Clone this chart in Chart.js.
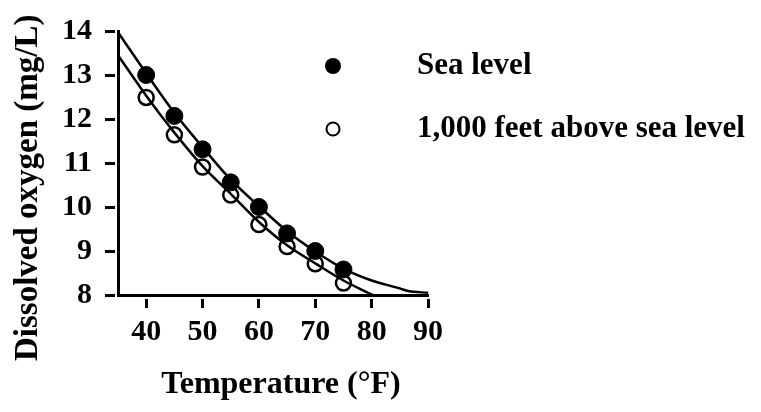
<!DOCTYPE html>
<html><head><meta charset="utf-8">
<script src="https://cdn.jsdelivr.net/npm/chart.js@4/dist/chart.umd.min.js"></script>
<style>html,body{margin:0;padding:0;background:#fff;} #wrap{width:761px;height:412px;position:relative;}</style>
</head><body><div id="wrap"><canvas id="c"></canvas></div>
<script>
const temps = [40, 45, 50, 55, 60, 65, 70, 75];
const seaLevel = [13.0, 12.07, 11.31, 10.56, 10.0, 9.4, 9.0, 8.58];
const aboveSea = [12.49, 11.64, 10.91, 10.27, 9.6, 9.1, 8.71, 8.27];
const seaCurveTemps = [35, 40, 45, 50, 55, 60, 65, 70, 75, 80, 85, 86.5, 90];
const seaCurve = [13.97, 13.04, 12.14, 11.36, 10.62, 10.02, 9.45, 8.99, 8.6, 8.33, 8.15, 8.09, 8.05];
const aboveCurveTemps = [35, 40, 45, 50, 55, 60, 65, 70, 75, 80.2];
const aboveCurve = [13.45, 12.53, 11.69, 10.93, 10.3, 9.66, 9.13, 8.72, 8.33, 8.0];
const xTicks = [40, 50, 60, 70, 80, 90];
const yTicks = [8, 9, 10, 11, 12, 13, 14];
const seriesLabels = ['Sea level', '1,000 feet above sea level'];
const xTitle = 'Temperature (°F)';
const yTitle = 'Dissolved oxygen (mg/L)';

const FONT = '"Liberation Serif", "Times New Roman", serif';
const pts = (xs, ys) => xs.map((x, i) => ({x: x, y: ys[i]}));

const legendPlugin = {
  id: 'sideLegend',
  afterDraw(chart) {
    const ctx = chart.ctx;
    const rows = [66, 129];
    ctx.save();
    ctx.fillStyle = '#000';
    ctx.beginPath(); ctx.arc(333, rows[0], 8, 0, Math.PI * 2); ctx.fill();
    ctx.strokeStyle = '#000'; ctx.lineWidth = 2;
    ctx.beginPath(); ctx.arc(333, rows[1], 6.5, 0, Math.PI * 2); ctx.stroke();
    ctx.font = 'bold 31px ' + FONT;
    ctx.textBaseline = 'middle';
    ctx.textAlign = 'left';
    seriesLabels.forEach((t, i) => ctx.fillText(t, 417, rows[i]));
    ctx.restore();
  }
};

new Chart(document.getElementById('c'), {
  type: 'scatter',
  data: {
    datasets: [
      { label: seriesLabels[0], data: pts(temps, seaLevel), showLine: false,
        pointRadius: 8.5, pointBackgroundColor: '#000', pointBorderColor: '#000', pointBorderWidth: 1 },
      { label: seriesLabels[1], data: pts(temps, aboveSea), showLine: false,
        pointRadius: 7.5, pointBackgroundColor: 'rgba(0,0,0,0)', pointBorderColor: '#000', pointBorderWidth: 2.5 },
      { type: 'line', label: 'sea fit', data: pts(seaCurveTemps, seaCurve), borderColor: '#000',
        borderWidth: 2.5, pointRadius: 0, cubicInterpolationMode: 'monotone', fill: false },
      { type: 'line', label: 'above fit', data: pts(aboveCurveTemps, aboveCurve), borderColor: '#000',
        borderWidth: 2.5, pointRadius: 0, cubicInterpolationMode: 'monotone', fill: false }
    ]
  },
  options: {
    responsive: true, maintainAspectRatio: false, animation: false, devicePixelRatio: 1,
    layout: { padding: { top: 25, right: 333, left: 0, bottom: 0 } },
    plugins: { legend: { display: false }, tooltip: { enabled: false } },
    scales: {
      x: {
        type: 'linear', min: 35, max: 90,
        afterBuildTicks: s => { s.ticks = xTicks.map(v => ({value: v})); },
        afterFit: s => { s.height = 117; },
        border: { display: true, color: '#000', width: 3 },
        grid: { display: true, drawOnChartArea: false, color: '#000', tickLength: 13, tickWidth: 3,
                tickBorderDash: [10, 50], tickBorderDashOffset: -2 },
        ticks: { color: '#000', padding: 6, maxRotation: 0, font: { family: FONT, size: 30, weight: 'bold' } },
        title: { display: true, text: '  ' + xTitle, color: '#000',
                 font: { family: FONT, size: 32, weight: 'bold', lineHeight: 0.9 }, padding: { top: 0, bottom: 13 } }
      },
      y: {
        type: 'linear', min: 8, max: 14,
        afterBuildTicks: s => { s.ticks = yTicks.map(v => ({value: v})); },
        afterFit: s => { s.width = 118; },
        border: { display: true, color: '#000', width: 3 },
        grid: { display: true, drawOnChartArea: false, color: '#000', tickLength: 13, tickWidth: 3,
                tickBorderDash: [10, 50] },
        ticks: { color: '#000', padding: 13, font: { family: FONT, size: 30, weight: 'bold' } },
        title: { display: true, text: yTitle + '      ', color: '#000',
                 font: { family: FONT, size: 33, weight: 'bold', lineHeight: 1 }, padding: { top: 11.5, bottom: 0 } }
      }
    }
  },
  plugins: [legendPlugin]
});
</script>
</body></html>
